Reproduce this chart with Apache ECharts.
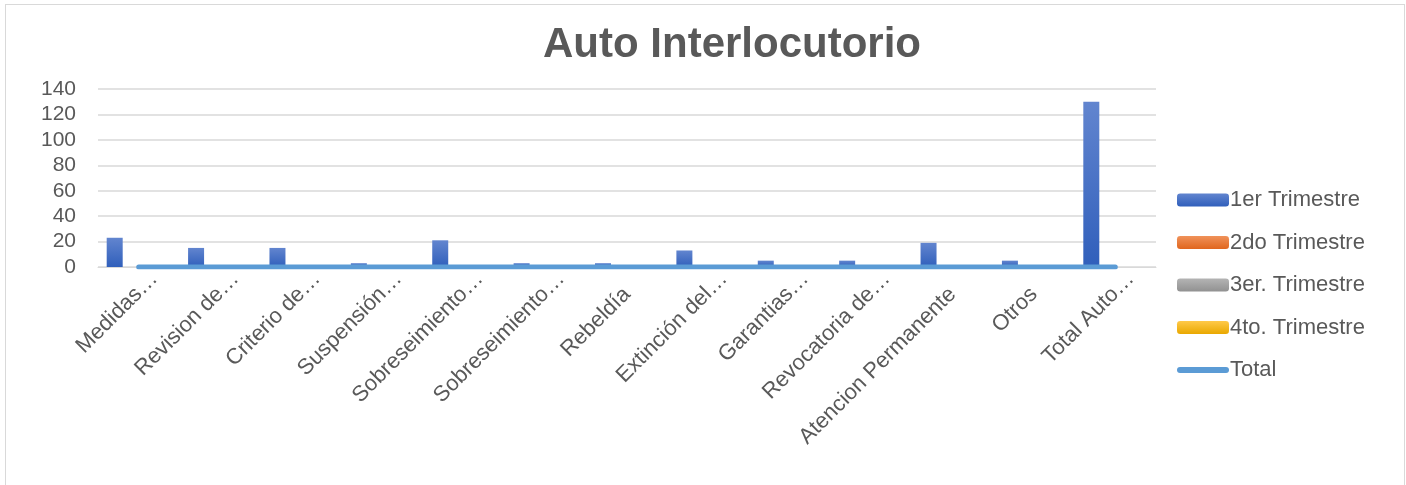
<!DOCTYPE html>
<html>
<head>
<meta charset="utf-8">
<script src="https://cdn.jsdelivr.net/npm/echarts@6/dist/echarts.min.js"></script>
<style>
    html, body { margin: 0; padding: 0; background: #fff; }
    #frame { position: absolute; left: 5px; top: 4px; width: 1398px; height: 500px; border: 1px solid #d9d9d9; }
    #auto-chart { position: absolute; left: 0; top: 0; width: 1406px; height: 485px; }
</style>
</head>
<body>
<div id="frame"></div>
<div id="auto-chart"></div>
<script>
// Chart data
const categories = ['Medidas…', 'Revision de…', 'Criterio de…', 'Suspensión…', 'Sobreseimiento…', 'Sobreseimiento…', 'Rebeldía', 'Extinción del…', 'Garantias…', 'Revocatoria de…', 'Atencion Permanente', 'Otros', 'Total Auto…'];
const trim1 = [23, 15, 15, 3, 21, 3, 3, 13, 5, 5, 19, 5, 130];
const trim2 = [0, 0, 0, 0, 0, 0, 0, 0, 0, 0, 0, 0, 0];
const trim3 = [0, 0, 0, 0, 0, 0, 0, 0, 0, 0, 0, 0, 0];
const trim4 = [0, 0, 0, 0, 0, 0, 0, 0, 0, 0, 0, 0, 0];
const totals = [0, 0, 0, 0, 0, 0, 0, 0, 0, 0, 0, 0, 0];
const seriesNames = ['1er Trimestre', '2do Trimestre', '3er. Trimestre', '4to. Trimestre', 'Total'];

function grad(top, bottom) {
    return {
        type: 'linear', x: 0, y: 0, x2: 0, y2: 1,
        colorStops: [{ offset: 0, color: top }, { offset: 1, color: bottom }]
    };
}

function barSeries(name, data, color) {
    return {
        name: name,
        type: 'bar',
        barWidth: 16,
        barGap: '0%',
        itemStyle: { color: color },
        data: data
    };
}

// Excel pushes the cut-off labels a little further along their slant
const categoryItems = categories.map(function(c) {
    if (c.endsWith('…')) {
        return { value: c, textStyle: { padding: [0, -22, 0, 0] } };
    }
    return c;
});

const lineIcon = 'path://M3,0 L49,0 A3,3 0 0 1 49,6 L3,6 A3,3 0 0 1 3,0 Z';

const autoChart = echarts.init(document.getElementById('auto-chart'));
const autoOption = {
    animation: false,
    textStyle: { fontFamily: 'Liberation Sans, Arial, sans-serif' },
    title: {
        text: 'Auto Interlocutorio',
        left: 727,
        top: 19,
        textAlign: 'center',
        textStyle: {
            fontSize: 42,
            fontWeight: 'bold',
            color: '#595959',
            fontFamily: 'Liberation Sans, Arial, sans-serif'
        }
    },
    legend: {
        orient: 'vertical',
        left: 1172,
        top: 184,
        itemWidth: 52,
        itemHeight: 13,
        itemGap: 20.5,
        data: [
            seriesNames[0], seriesNames[1], seriesNames[2], seriesNames[3],
            { name: seriesNames[4], icon: lineIcon }
        ],
        textStyle: {
            fontSize: 22,
            lineHeight: 20,
            color: '#595959',
            padding: [0, 0, 0, -4]
        }
    },
    grid: {
        left: 98,
        right: 250,
        top: 89,
        bottom: 218
    },
    xAxis: {
        type: 'category',
        data: categoryItems,
        axisLine: { lineStyle: { color: '#d9d9d9' } },
        axisTick: { show: false },
        axisLabel: {
            rotate: 45,
            interval: 0,
            fontSize: 22,
            color: '#595959',
            margin: 24
        }
    },
    yAxis: {
        type: 'value',
        min: 0,
        max: 140,
        interval: 20,
        axisLine: { show: false },
        axisTick: { show: false },
        axisLabel: {
            fontSize: 21,
            color: '#595959',
            margin: 22
        },
        splitLine: { lineStyle: { color: '#d9d9d9', width: 1.5 } }
    },
    series: [
        barSeries(seriesNames[0], trim1, grad('#6285cf', '#305fbb')),
        barSeries(seriesNames[1], trim2, grad('#f0925a', '#e0661e')),
        barSeries(seriesNames[2], trim3, grad('#b4b4b4', '#919191')),
        barSeries(seriesNames[3], trim4, grad('#ffc94a', '#e9a800')),
        {
            name: seriesNames[4],
            type: 'line',
            symbol: 'none',
            lineStyle: { width: 5, color: '#5b9bd5', cap: 'round' },
            itemStyle: { color: '#5b9bd5' },
            data: totals
        }
    ]
};
autoChart.setOption(autoOption);
window.addEventListener('resize', function() {
    autoChart.resize();
});
</script>
</body>
</html>
